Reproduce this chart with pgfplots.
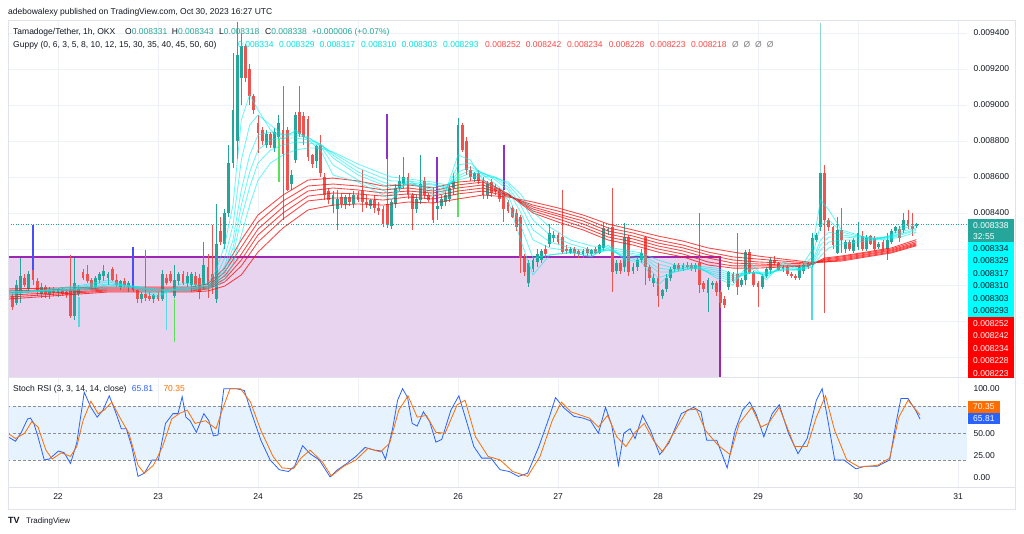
\documentclass[border=0pt]{standalone}
\usepackage{pgfplots}
\pgfplotsset{compat=1.18}
\usepackage{pgfplotstable}
\usepackage{fontspec}
\setmainfont{Liberation Sans}
\definecolor{upc}{HTML}{26A69A}
\definecolor{dnc}{HTML}{EF5350}
\definecolor{tvtext}{HTML}{131722}
\definecolor{gridc}{HTML}{EEF1F7}
\definecolor{framec}{HTML}{E0E3EB}
\definecolor{lav}{RGB}{232,212,238}
\definecolor{purp}{HTML}{9C27B0}
\definecolor{kblue}{HTML}{2962FF}
\definecolor{dorange}{HTML}{FF6D00}
\definecolor{bandc}{RGB}{230,242,253}
\definecolor{cyanv}{RGB}{0,225,225}
\definecolor{redv}{RGB}{255,70,70}
\definecolor{boxcyan}{RGB}{0,255,255}
\definecolor{boxred}{RGB}{255,0,0}
\definecolor{emacyan}{RGB}{0,240,240}
\definecolor{emared}{RGB}{255,20,20}
\definecolor{ovblue}{RGB}{70,80,245}
\definecolor{ovpurp}{RGB}{140,50,200}
\definecolor{ovlime}{RGB}{90,225,90}
\definecolor{ovcyan}{RGB}{80,220,225}
\definecolor{ovteal}{RGB}{140,215,210}
\definecolor{dashc}{RGB}{140,143,152}
\newcommand\tvf{\fontsize{8.5}{10}\selectfont}

\pgfplotstableread{
i o h l c
1 0.007940 0.007960 0.007860 0.007880
2 0.007900 0.008030 0.007890 0.008000
3 0.007960 0.008150 0.007900 0.008050
4 0.008040 0.008060 0.007990 0.008000
5 0.007980 0.008080 0.007960 0.008060
6 0.008090 0.008333 0.008000 0.008030
7 0.008020 0.008040 0.007940 0.007960
8 0.007950 0.008010 0.007930 0.007990
9 0.007990 0.008000 0.007930 0.007950
10 0.007950 0.007990 0.007920 0.007980
11 0.007980 0.007990 0.007940 0.007955
12 0.007955 0.007985 0.007935 0.007975
13 0.007975 0.007990 0.007940 0.007950
14 0.007960 0.007980 0.007930 0.007945
15 0.007975 0.008167 0.007817 0.007830
16 0.007830 0.008150 0.007806 0.008011
17 0.007950 0.008000 0.007940 0.007980
18 0.008070 0.008090 0.008030 0.008040
19 0.008060 0.008110 0.008010 0.008020
20 0.008030 0.008040 0.007980 0.007990
21 0.007990 0.008050 0.007980 0.008040
22 0.008030 0.008070 0.008010 0.008060
23 0.008050 0.008110 0.008020 0.008080
24 0.008040 0.008070 0.008000 0.008060
25 0.008090 0.008100 0.008020 0.008030
26 0.008030 0.008060 0.007990 0.008000
27 0.007990 0.008030 0.007970 0.008020
28 0.008020 0.008040 0.007990 0.008000
29 0.007990 0.008020 0.007960 0.008010
30 0.008000 0.008020 0.007960 0.007970
31 0.007970 0.007980 0.007900 0.007920
32 0.007920 0.007960 0.007900 0.007950
33 0.007950 0.008194 0.007910 0.007930
34 0.007940 0.007960 0.007910 0.007920
35 0.007920 0.007950 0.007900 0.007945
36 0.007945 0.007960 0.007910 0.007925
37 0.007925 0.008083 0.007910 0.008060
38 0.008040 0.008060 0.008000 0.008010
39 0.008060 0.008080 0.008010 0.008020
40 0.007940 0.008111 0.007930 0.008030
41 0.008020 0.008070 0.008000 0.008060
42 0.008060 0.008080 0.008000 0.008010
43 0.008010 0.008070 0.007990 0.008050
44 0.008000 0.008070 0.007960 0.008060
45 0.008050 0.008070 0.007990 0.008000
46 0.008040 0.008060 0.007920 0.007960
47 0.008000 0.008240 0.007980 0.008110
48 0.008100 0.008170 0.007930 0.008000
49 0.008060 0.008333 0.007950 0.007990
50 0.007920 0.008450 0.007900 0.008230
51 0.008300 0.008380 0.008220 0.008240
52 0.008230 0.008420 0.008200 0.008400
53 0.008400 0.008780 0.008380 0.008680
54 0.008680 0.009290 0.008650 0.008970
55 0.008800 0.009460 0.008700 0.009280
56 0.009150 0.009400 0.009000 0.009330
57 0.009330 0.009340 0.009130 0.009150
58 0.009200 0.009230 0.009000 0.009050
59 0.009050 0.009060 0.008950 0.008970
60 0.008900 0.008944 0.008733 0.008845
61 0.008860 0.008880 0.008780 0.008800
62 0.008780 0.008860 0.008760 0.008840
63 0.008840 0.008850 0.008760 0.008780
64 0.008760 0.008870 0.008740 0.008850
65 0.008820 0.008944 0.008810 0.008900
66 0.008860 0.009106 0.008361 0.008730
67 0.008860 0.008880 0.008520 0.008530
68 0.008560 0.008640 0.008530 0.008610
69 0.008694 0.008960 0.008680 0.008944
70 0.008960 0.009106 0.008820 0.008840
71 0.008940 0.008960 0.008780 0.008820
72 0.008920 0.008940 0.008690 0.008710
73 0.008720 0.008730 0.008650 0.008670
74 0.008690 0.008780 0.008650 0.008770
75 0.008780 0.008833 0.008600 0.008622
76 0.008600 0.008620 0.008470 0.008500
77 0.008520 0.008540 0.008450 0.008470
78 0.008440 0.008520 0.008400 0.008500
79 0.008420 0.008528 0.008306 0.008480
80 0.008490 0.008510 0.008430 0.008450
81 0.008450 0.008500 0.008420 0.008490
82 0.008490 0.008510 0.008440 0.008460
83 0.008450 0.008520 0.008430 0.008500
84 0.008500 0.008520 0.008460 0.008470
85 0.008520 0.008639 0.008406 0.008460
86 0.008460 0.008500 0.008430 0.008450
87 0.008440 0.008480 0.008420 0.008470
88 0.008470 0.008500 0.008400 0.008430
89 0.008430 0.008460 0.008390 0.008410
90 0.008420 0.008440 0.008320 0.008340
91 0.008450 0.008700 0.008317 0.008340
92 0.008330 0.008480 0.008310 0.008460
93 0.008450 0.008560 0.008430 0.008540
94 0.008540 0.008610 0.008520 0.008580
95 0.008560 0.008711 0.008540 0.008600
96 0.008600 0.008620 0.008480 0.008500
97 0.008500 0.008511 0.008306 0.008420
98 0.008420 0.008500 0.008400 0.008480
99 0.008470 0.008722 0.008450 0.008560
100 0.008580 0.008600 0.008480 0.008500
101 0.008500 0.008510 0.008460 0.008470
102 0.008490 0.008544 0.008344 0.008360
103 0.008420 0.008461 0.008361 0.008440
104 0.008440 0.008500 0.008420 0.008480
105 0.008460 0.008520 0.008440 0.008500
106 0.008480 0.008560 0.008460 0.008540
107 0.008540 0.008620 0.008500 0.008580
108 0.008622 0.008928 0.008560 0.008889
109 0.008889 0.008900 0.008740 0.008750
110 0.008800 0.008820 0.008610 0.008640
111 0.008640 0.008660 0.008580 0.008600
112 0.008590 0.008630 0.008570 0.008620
113 0.008620 0.008640 0.008560 0.008580
114 0.008580 0.008600 0.008480 0.008500
115 0.008500 0.008580 0.008480 0.008560
116 0.008570 0.008590 0.008490 0.008510
117 0.008540 0.008560 0.008500 0.008520
118 0.008530 0.008540 0.008460 0.008480
119 0.008510 0.008530 0.008350 0.008420
120 0.008460 0.008470 0.008400 0.008410
121 0.008430 0.008440 0.008370 0.008380
122 0.008400 0.008420 0.008300 0.008320
123 0.008378 0.008389 0.008067 0.008150
124 0.008150 0.008170 0.008050 0.008070
125 0.008010 0.008140 0.007990 0.008120
126 0.008090 0.008150 0.008070 0.008140
127 0.008130 0.008200 0.008100 0.008170
128 0.008140 0.008200 0.008120 0.008190
129 0.008200 0.008220 0.008150 0.008170
130 0.008230 0.008340 0.008211 0.008290
131 0.008260 0.008300 0.008240 0.008280
132 0.008280 0.008290 0.008230 0.008240
133 0.008267 0.008528 0.008170 0.008183
134 0.008200 0.008220 0.008170 0.008190
135 0.008180 0.008210 0.008170 0.008200
136 0.008200 0.008210 0.008160 0.008180
137 0.008190 0.008200 0.008150 0.008170
138 0.008170 0.008200 0.008150 0.008190
139 0.008200 0.008210 0.008160 0.008180
140 0.008170 0.008200 0.008160 0.008195
141 0.008200 0.008210 0.008170 0.008180
142 0.008180 0.008230 0.008170 0.008220
143 0.008206 0.008344 0.008190 0.008317
144 0.008300 0.008320 0.008280 0.008310
145 0.008320 0.008540 0.007960 0.008070
146 0.008080 0.008140 0.008060 0.008120
147 0.008120 0.008140 0.008060 0.008080
148 0.008100 0.008344 0.008070 0.008267
149 0.008267 0.008280 0.008050 0.008070
150 0.008080 0.008120 0.008060 0.008100
151 0.008100 0.008150 0.008080 0.008140
152 0.008140 0.008200 0.008120 0.008180
153 0.008267 0.008270 0.008000 0.008100
154 0.008100 0.008110 0.008020 0.008040
155 0.008010 0.008060 0.007990 0.008040
156 0.008040 0.008120 0.007880 0.007940
157 0.007940 0.007980 0.007920 0.007970
158 0.007980 0.008060 0.007960 0.008040
159 0.008040 0.008100 0.008020 0.008090
160 0.008090 0.008120 0.008070 0.008110
161 0.008110 0.008120 0.008080 0.008090
162 0.008090 0.008120 0.008080 0.008110
163 0.008110 0.008130 0.008090 0.008100
164 0.008110 0.008120 0.008080 0.008090
165 0.008090 0.008120 0.008070 0.008110
166 0.008120 0.008400 0.007955 0.008000
167 0.008010 0.008020 0.007960 0.007980
168 0.007956 0.008040 0.007850 0.008028
169 0.008000 0.008020 0.007980 0.008010
170 0.008010 0.008020 0.007940 0.007960
171 0.007960 0.007970 0.007870 0.007900
172 0.007920 0.007940 0.007870 0.007890
173 0.007989 0.008080 0.007970 0.008072
174 0.008060 0.008070 0.008010 0.008020
175 0.008060 0.008289 0.007944 0.007990
176 0.008000 0.008040 0.007990 0.008030
177 0.008028 0.008194 0.008000 0.008183
178 0.008183 0.008200 0.008060 0.008067
179 0.008070 0.008080 0.007990 0.008000
180 0.008010 0.008020 0.007878 0.007990
181 0.007990 0.008060 0.007980 0.008050
182 0.008050 0.008100 0.008040 0.008090
183 0.008083 0.008150 0.008060 0.008139
184 0.008140 0.008160 0.008110 0.008120
185 0.008122 0.008130 0.008080 0.008083
186 0.008090 0.008110 0.008070 0.008100
187 0.008100 0.008110 0.008050 0.008060
188 0.008060 0.008070 0.008040 0.008050
189 0.008050 0.008060 0.008030 0.008040
190 0.008040 0.008110 0.008030 0.008100
191 0.008080 0.008120 0.008060 0.008110
192 0.008120 0.008130 0.008090 0.008100
193 0.008111 0.008290 0.008100 0.008261
194 0.008250 0.008290 0.008240 0.008280
195 0.008322 0.008622 0.008300 0.008622
196 0.008622 0.008667 0.007844 0.008361
197 0.008360 0.008370 0.008300 0.008320
198 0.008320 0.008330 0.008200 0.008220
199 0.008180 0.008380 0.008170 0.008306
200 0.008306 0.008428 0.008178 0.008250
201 0.008200 0.008250 0.008180 0.008240
202 0.008240 0.008250 0.008190 0.008200
203 0.008190 0.008260 0.008180 0.008250
204 0.008211 0.008350 0.008194 0.008289
205 0.008270 0.008300 0.008190 0.008200
206 0.008200 0.008280 0.008190 0.008260
207 0.008270 0.008280 0.008220 0.008230
208 0.008260 0.008270 0.008190 0.008200
209 0.008210 0.008240 0.008200 0.008230
210 0.008240 0.008250 0.008190 0.008200
211 0.008200 0.008289 0.008139 0.008250
212 0.008240 0.008310 0.008230 0.008300
213 0.008300 0.008330 0.008290 0.008320
214 0.008310 0.008330 0.008240 0.008260
215 0.008306 0.008400 0.008290 0.008361
216 0.008360 0.008417 0.008310 0.008330
217 0.008330 0.008400 0.008270 0.008310
218 0.008331 0.008343 0.008318 0.008338
}\candles

\pgfplotstableread{
i lo hi
6 0.008083 0.008333
30 0.007980 0.008211
}\ovblue
\pgfplotstableread{
i lo hi
91 0.008700 0.008950
103 0.008461 0.008711
119 0.008530 0.008780
}\ovpurp
\pgfplotstableread{
i lo hi
40 0.007683 0.007920
65 0.008570 0.008810
108 0.008378 0.008622
}\ovlime
\pgfplotstableread{
i lo hi
17 0.007767 0.007933
38 0.007750 0.007956
193 0.007806 0.008100
}\ovcyan
\pgfplotstableread{
i lo hi
195 0.008622 0.009455
}\ovteal

\pgfplotstableread{
i c1 c2 c3 c4 c5 c6
0 0.007944 0.007950 0.007956 0.007961 0.007961 0.007967
12 0.007983 0.007978 0.007972 0.007972 0.007967 0.007967
18 0.008000 0.007994 0.007989 0.007983 0.007978 0.007972
24 0.008028 0.008017 0.008006 0.008000 0.007994 0.007983
30 0.007983 0.007989 0.007994 0.007994 0.007994 0.007989
36 0.007933 0.007944 0.007956 0.007967 0.007972 0.007978
42 0.008011 0.007994 0.007983 0.007978 0.007972 0.007967
46 0.008000 0.007994 0.007989 0.007989 0.007983 0.007978
48 0.008011 0.008000 0.007994 0.007989 0.007983 0.007978
50 0.008083 0.008050 0.008028 0.008017 0.008006 0.007994
52 0.008222 0.008150 0.008106 0.008083 0.008061 0.008033
54 0.008444 0.008333 0.008250 0.008206 0.008167 0.008117
56 0.008917 0.008694 0.008528 0.008444 0.008372 0.008278
58 0.009056 0.008889 0.008722 0.008628 0.008544 0.008444
60 0.008972 0.008944 0.008833 0.008750 0.008678 0.008583
63 0.008861 0.008889 0.008850 0.008806 0.008750 0.008678
66 0.008806 0.008833 0.008833 0.008817 0.008778 0.008722
69 0.008861 0.008850 0.008833 0.008817 0.008794 0.008750
72 0.008806 0.008822 0.008817 0.008806 0.008789 0.008761
75 0.008750 0.008772 0.008783 0.008783 0.008778 0.008761
78 0.008611 0.008667 0.008706 0.008722 0.008733 0.008739
84 0.008572 0.008583 0.008611 0.008628 0.008650 0.008672
90 0.008500 0.008528 0.008556 0.008572 0.008594 0.008617
92 0.008472 0.008500 0.008533 0.008556 0.008578 0.008600
96 0.008583 0.008567 0.008561 0.008567 0.008578 0.008589
102 0.008500 0.008528 0.008544 0.008556 0.008561 0.008572
105 0.008517 0.008517 0.008528 0.008539 0.008544 0.008556
108 0.008722 0.008667 0.008628 0.008606 0.008594 0.008583
111 0.008694 0.008678 0.008656 0.008639 0.008622 0.008600
114 0.008583 0.008611 0.008622 0.008622 0.008617 0.008606
117 0.008539 0.008561 0.008583 0.008594 0.008600 0.008594
120 0.008472 0.008500 0.008528 0.008544 0.008561 0.008572
123 0.008250 0.008333 0.008406 0.008444 0.008478 0.008506
126 0.008056 0.008150 0.008250 0.008306 0.008361 0.008406
130 0.008167 0.008167 0.008206 0.008239 0.008278 0.008322
135 0.008183 0.008178 0.008189 0.008206 0.008228 0.008250
140 0.008156 0.008161 0.008172 0.008183 0.008194 0.008217
144 0.008222 0.008206 0.008194 0.008194 0.008200 0.008211
148 0.008139 0.008150 0.008161 0.008172 0.008183 0.008194
152 0.008128 0.008139 0.008150 0.008161 0.008167 0.008178
156 0.008000 0.008039 0.008072 0.008094 0.008117 0.008139
160 0.008083 0.008072 0.008072 0.008083 0.008094 0.008111
165 0.008111 0.008100 0.008094 0.008094 0.008100 0.008106
170 0.008039 0.008050 0.008061 0.008072 0.008083 0.008094
174 0.008000 0.008017 0.008028 0.008039 0.008050 0.008061
178 0.008128 0.008094 0.008072 0.008067 0.008067 0.008067
182 0.008028 0.008044 0.008056 0.008061 0.008067 0.008072
186 0.008128 0.008111 0.008094 0.008089 0.008083 0.008083
190 0.008090 0.008088 0.008086 0.008085 0.008084 0.008083
193 0.008194 0.008156 0.008128 0.008117 0.008106 0.008100
195 0.008472 0.008333 0.008250 0.008222 0.008194 0.008161
197 0.008417 0.008361 0.008294 0.008267 0.008239 0.008206
200 0.008306 0.008294 0.008278 0.008267 0.008250 0.008228
204 0.008278 0.008272 0.008267 0.008261 0.008250 0.008239
208 0.008250 0.008256 0.008261 0.008261 0.008256 0.008250
212 0.008278 0.008272 0.008267 0.008267 0.008261 0.008256
215 0.008333 0.008317 0.008300 0.008289 0.008283 0.008272
218 0.008334 0.008329 0.008317 0.008310 0.008303 0.008293
}\emacyan

\pgfplotstableread{
i r1 r2 r3 r4 r5 r6
0 0.007978 0.007967 0.007956 0.007944 0.007933 0.007922
24 0.007989 0.007983 0.007978 0.007972 0.007967 0.007961
44 0.007989 0.007983 0.007978 0.007972 0.007967 0.007961
48 0.008006 0.007994 0.007989 0.007983 0.007978 0.007967
52 0.008094 0.008072 0.008050 0.008033 0.008017 0.007994
56 0.008250 0.008211 0.008172 0.008139 0.008106 0.008056
60 0.008389 0.008350 0.008311 0.008278 0.008239 0.008183
66 0.008500 0.008467 0.008433 0.008400 0.008367 0.008317
72 0.008583 0.008550 0.008522 0.008494 0.008467 0.008417
78 0.008594 0.008561 0.008539 0.008511 0.008483 0.008444
84 0.008578 0.008550 0.008528 0.008506 0.008483 0.008450
90 0.008550 0.008528 0.008511 0.008494 0.008472 0.008444
96 0.008556 0.008539 0.008522 0.008506 0.008489 0.008461
102 0.008539 0.008522 0.008511 0.008494 0.008478 0.008456
108 0.008572 0.008556 0.008539 0.008522 0.008506 0.008478
114 0.008583 0.008572 0.008556 0.008539 0.008522 0.008500
120 0.008506 0.008506 0.008500 0.008500 0.008494 0.008489
126 0.008400 0.008411 0.008422 0.008433 0.008444 0.008461
132 0.008350 0.008367 0.008383 0.008394 0.008411 0.008428
138 0.008306 0.008322 0.008339 0.008356 0.008372 0.008389
144 0.008250 0.008267 0.008283 0.008300 0.008317 0.008339
150 0.008222 0.008239 0.008256 0.008272 0.008289 0.008306
156 0.008183 0.008200 0.008217 0.008233 0.008250 0.008272
162 0.008156 0.008172 0.008189 0.008206 0.008222 0.008244
168 0.008111 0.008128 0.008150 0.008167 0.008183 0.008206
174 0.008094 0.008106 0.008122 0.008139 0.008156 0.008183
180 0.008094 0.008106 0.008117 0.008128 0.008144 0.008161
186 0.008100 0.008106 0.008111 0.008122 0.008133 0.008144
192 0.008106 0.008106 0.008111 0.008117 0.008122 0.008128
196 0.008150 0.008144 0.008139 0.008133 0.008128 0.008128
200 0.008161 0.008156 0.008150 0.008144 0.008139 0.008133
206 0.008183 0.008178 0.008172 0.008167 0.008161 0.008156
212 0.008206 0.008200 0.008194 0.008189 0.008183 0.008178
218 0.008252 0.008242 0.008234 0.008228 0.008223 0.008218
}\emared

\pgfplotstableread{
i k
0.0 46
1.8 41
3.2 51
4.7 66
5.4 67
6.2 61
7.2 46
8.7 20
9.9 21
12.1 30
13.5 28
15.0 16
16.5 39
18.3 96
19.9 79
21.4 68
22.8 76
24.3 92
25.8 74
27.2 55
28.4 55
29.7 35
31.2 1.5
32.7 5
34.6 20
36.1 20
37.8 61
39.6 72
40.8 72
41.8 91
42.7 68
43.7 64
45.2 51
47.0 72
48.2 64
49.3 47
50.4 48
51.8 100
54.8 100
56.7 98
58.5 72
60.7 42
62.9 20
65.1 9
67.3 7
68.8 13
70.7 36
72.5 27
74.7 20
77.3 1
79.1 9
81.3 16
83.5 24
85.7 34
88.0 31
89.7 30
90.6 21
92.3 55
93.5 87
94.7 100
95.9 90
97.0 61
98.2 58
99.7 74
101.2 63
102.7 40
104.1 43
106.3 76
108.2 92
110.0 64
111.8 35
113.7 22
115.9 22
118.1 9
120.3 7
122.5 1.5
124.7 5
127.4 35
129.9 68
131.4 90
133.3 79
135.8 69
138.0 67
139.8 64
141.7 50
143.4 79
144.9 59
146.5 14
147.8 50
149.3 55
150.5 44
152.3 70
154.2 53
156.4 26
158.6 39
161.6 72
164.5 79
166.3 74
167.7 42
170.1 42
172.6 11
174.5 53
176.3 76
178.0 85
179.5 72
181.4 46
183.4 72
185.1 82
187.3 50
189.6 27
191.8 44
194.0 87
195.4 100
196.9 61
198.4 20
200.6 20
203.5 10
205.7 13
208.7 13
211.6 20
213.1 61
214.3 89
216.0 89
217.8 76
218.9 65.81
}\stochk

\pgfplotstableread{
i d
0.0 50
1.8 44
4.0 50
5.7 63
7.2 57
9.1 31
10.6 21
12.8 28
15.0 24
16.5 35
18.0 64
19.9 86
21.6 72
23.1 76
24.9 85
26.8 68
29.0 50
31.2 14
32.7 5
34.9 14
37.1 35
39.3 66
41.1 72
43.0 76
44.9 61
47.4 64
49.9 55
51.4 76
53.3 100
55.8 100
58.2 85
60.7 53
63.6 24
65.8 11
68.5 10
70.3 22
72.5 31
75.4 18
77.6 2
80.6 13
83.5 20
86.4 33
89.4 29
91.6 39
93.8 76
96.0 92
98.2 68
100.4 70
102.7 51
104.9 50
107.8 82
109.7 87
112.2 46
115.2 24
118.1 20
121.1 7
124.7 1.5
127.7 24
130.6 64
132.8 85
135.1 74
139.5 67
141.7 57
143.9 70
146.1 46
148.3 35
150.5 51
152.7 61
154.9 42
157.1 29
160.1 53
163.0 76
165.2 77
167.4 53
170.3 37
173.3 26
175.5 61
178.5 79
180.7 57
182.5 61
185.1 79
188.8 35
191.8 35
194.0 68
196.2 92
198.4 53
201.3 20
204.3 12
208.7 14
211.6 22
213.8 68
216.0 87
218.9 70.35
}\stochd

\pgfplotsset{
  nomk/.style={only marks, mark=*, mark size=0pt, mark options={draw=none, fill=none}, forget plot,
    error bars/y dir=both, error bars/y explicit, error bars/error mark=none},
  wick/.style={nomk, error bars/error bar style={draw=#1, line width=0.9pt}},
  body/.style={nomk, error bars/error bar style={draw=#1, line width=2.9pt, line cap=butt}},
  ov/.style={nomk, error bars/error bar style={draw=#1, line width=1.4pt}},
}

\begin{document}
\begin{tikzpicture}[x=1pt,y=1pt]
\fill[white] (0,0) rectangle (1024,-534);

% ---------------- price pane ----------------
\begin{axis}[
  at={(8pt,-20pt)}, anchor=north west,
  scale only axis, width=959pt, height=357pt,
  xmin=0, xmax=230.16, ymin=0.0074889, ymax=0.0094722,
  axis line style={draw=none}, tick style={draw=none}, major tick length=0pt,
  xtick={12,36,60,84,108,132,156,180,204,228}, xticklabels={},
  ytick={0.0084,0.0086,0.0088,0.0090,0.0092,0.0094},
  extra y ticks={0.0076,0.0078,0.0080,0.0082},
  extra y tick labels={},
  extra y tick style={grid=major, major grid style={draw=gridc, line width=0.7pt}},
  scaled y ticks=false,
  yticklabel pos=right,
  yticklabel style={font=\tvf, text=tvtext, xshift=3pt,
    /pgf/number format/fixed, /pgf/number format/fixed zerofill,
    /pgf/number format/precision=6, /pgf/number format/assume math mode=true},
  grid=major, major grid style={draw=gridc, line width=0.7pt},
]
% purple rectangle drawing
\addplot[draw=none, fill=lav, forget plot] coordinates {(-2,0.008156) (170.9,0.008156) (170.9,0.0074) (-2,0.0074)} -- cycle;
\addplot[purp, line width=1.5pt, forget plot] coordinates {(-2,0.008156) (170.9,0.008156) (170.9,0.0074)};
% current price line
\addplot[upc, line width=0.6pt, dash pattern=on 1pt off 1.5pt, forget plot] coordinates {(0,0.008338) (230.16,0.008338)};

% candles: wicks and bodies
\addplot[wick=upc] table[x=i, y expr={\thisrow{c}<\thisrow{o} ? nan : (\thisrow{h}+\thisrow{l})/2}, y error expr={(\thisrow{h}-\thisrow{l})/2}] {\candles};
\addplot[wick=dnc] table[x=i, y expr={\thisrow{c}<\thisrow{o} ? (\thisrow{h}+\thisrow{l})/2 : nan}, y error expr={(\thisrow{h}-\thisrow{l})/2}] {\candles};
\addplot[body=upc] table[x=i, y expr={\thisrow{c}<\thisrow{o} ? nan : (\thisrow{o}+\thisrow{c})/2}, y error expr={abs(\thisrow{c}-\thisrow{o})/2}] {\candles};
\addplot[body=dnc] table[x=i, y expr={\thisrow{c}<\thisrow{o} ? (\thisrow{o}+\thisrow{c})/2 : nan}, y error expr={abs(\thisrow{c}-\thisrow{o})/2}] {\candles};

% coloured wicks
\addplot[ov=ovblue] table[x=i, y expr={(\thisrow{hi}+\thisrow{lo})/2}, y error expr={(\thisrow{hi}-\thisrow{lo})/2}] {\ovblue};
\addplot[ov=ovpurp] table[x=i, y expr={(\thisrow{hi}+\thisrow{lo})/2}, y error expr={(\thisrow{hi}-\thisrow{lo})/2}] {\ovpurp};
\addplot[ov=ovlime] table[x=i, y expr={(\thisrow{hi}+\thisrow{lo})/2}, y error expr={(\thisrow{hi}-\thisrow{lo})/2}] {\ovlime};
\addplot[ov=ovcyan] table[x=i, y expr={(\thisrow{hi}+\thisrow{lo})/2}, y error expr={(\thisrow{hi}-\thisrow{lo})/2}] {\ovcyan};
\addplot[ov=ovteal] table[x=i, y expr={(\thisrow{hi}+\thisrow{lo})/2}, y error expr={(\thisrow{hi}-\thisrow{lo})/2}] {\ovteal};

% Guppy EMAs
\foreach \r in {r1,r2,r3,r4,r5,r6}{
  \addplot[emared, opacity=0.8, line width=0.85pt, mark=none, forget plot] table[x=i, y=\r] {\emared};
}
\foreach \c in {c1,c2,c3,c4,c5,c6}{
  \addplot[emacyan, opacity=0.6, line width=0.8pt, mark=none, forget plot] table[x=i, y=\c] {\emacyan};
}
\end{axis}

% ---------------- Stoch RSI pane ----------------
\begin{axis}[
  at={(8pt,-378pt)}, anchor=north west,
  scale only axis, width=959pt, height=109pt,
  xmin=0, xmax=230.16, ymin=-10.4, ymax=112,
  axis line style={draw=none}, tick style={draw=none}, major tick length=0pt,
  xtick={12,36,60,84,108,132,156,180,204,228},
  xticklabels={22,23,24,25,26,27,28,29,30,31},
  xticklabel style={font=\tvf, text=tvtext, yshift=-3pt},
  ytick={0,25,50,100}, yticklabels={0.00,25.00,50.00,100.00},
  yticklabel pos=right,
  yticklabel style={font=\tvf, text=tvtext, xshift=3pt},
  xmajorgrids, major grid style={draw=gridc, line width=0.7pt},
]
\addplot[draw=none, fill=bandc, forget plot] coordinates {(0,20) (230.16,20) (230.16,80) (0,80)} -- cycle;
\addplot[dashc, line width=0.6pt, dash pattern=on 2.5pt off 2.5pt, forget plot] coordinates {(0,80) (230.16,80)};
\addplot[dashc, line width=0.6pt, dash pattern=on 2.5pt off 2.5pt, forget plot] coordinates {(0,50) (230.16,50)};
\addplot[dashc, line width=0.6pt, dash pattern=on 2.5pt off 2.5pt, forget plot] coordinates {(0,20) (230.16,20)};
\addplot[kblue, line width=0.8pt, mark=none] table[x=i, y=k] {\stochk};
\addplot[dorange, line width=0.8pt, mark=none] table[x=i, y=d] {\stochd};
\end{axis}

% frame and separators
\draw[framec, line width=0.6pt] (8,-20) rectangle (1015,-509);
\draw[framec, line width=0.6pt] (8,-377.5) -- (1015,-377.5);
\draw[framec, line width=0.6pt] (8,-487) -- (1015,-487);

% right scale label boxes
\begin{scope}
\clip (966,-20) rectangle (1016,-377);
\fill[upc] (968,-219) rectangle (1014,-242);
\fill[boxcyan] (968,-242) rectangle (1014,-317);
\fill[boxred] (968,-317) rectangle (1014,-380);
\node[anchor=west, inner sep=0, font=\tvf, text=white] at (973,-225.5) {0.008338};
\node[anchor=west, inner sep=0, font=\tvf, text=white] at (973,-236.5) {32:55};
\foreach \v/\yy in {0.008334/248.3, 0.008329/260.8, 0.008317/273.3, 0.008310/285.8, 0.008303/298.3, 0.008293/310.8}{
  \node[anchor=west, inner sep=0, font=\tvf, text=tvtext] at (973,-\yy) {\v};
}
\foreach \v/\yy in {0.008252/323.3, 0.008242/335.8, 0.008234/348.3, 0.008228/360.8, 0.008223/373.3}{
  \node[anchor=west, inner sep=0, font=\tvf, text=white] at (973,-\yy) {\v};
}
\end{scope}
\fill[dorange] (968,-401) rectangle (1000,-412.5);
\fill[kblue] (968,-412.5) rectangle (1000,-424);
\node[anchor=west, inner sep=0, font=\tvf, text=white] at (973,-406.8) {70.35};
\node[anchor=west, inner sep=0, font=\tvf, text=white] at (973,-418.3) {65.81};

% header texts
\node[anchor=base west, inner sep=0, font=\tvf, text=tvtext] at (8,-14.5) {adebowalexy published on TradingView.com, Oct 30, 2023 16:27 UTC};
\node[anchor=base west, inner sep=0, font=\tvf, text=tvtext] at (13,-34.7) {Tamadoge/Tether, 1h, OKX};
\node[anchor=base west, inner sep=0, font=\tvf, text=tvtext] at (125,-34.7) {O\textcolor{upc}{0.008331}};
\node[anchor=base west, inner sep=0, font=\tvf, text=tvtext] at (171.7,-34.7) {H\textcolor{upc}{0.008343}};
\node[anchor=base west, inner sep=0, font=\tvf, text=tvtext] at (219,-34.7) {L\textcolor{upc}{0.008318}};
\node[anchor=base west, inner sep=0, font=\tvf, text=tvtext] at (265,-34.7) {C\textcolor{upc}{0.008338}};
\node[anchor=base west, inner sep=0, font=\tvf, text=upc] at (311.7,-34.7) {+0.000006 (+0.07\%)};
\node[anchor=base west, inner sep=0, font=\tvf, text=tvtext] at (13,-47.5) {Guppy (0, 6, 3, 5, 8, 10, 12, 15, 30, 35, 40, 45, 50, 60)};
\foreach \v/\xx in {0.008334/238, 0.008329/279, 0.008317/319.5, 0.008310/361, 0.008303/401.5, 0.008293/443}{
  \node[anchor=base west, inner sep=0, font=\tvf, text=cyanv] at (\xx,-47.5) {\v};
}
\foreach \v/\xx in {0.008252/485, 0.008242/525.7, 0.008234/567, 0.008228/608.7, 0.008223/650, 0.008218/691}{
  \node[anchor=base west, inner sep=0, font=\tvf, text=redv] at (\xx,-47.5) {\v};
}
\foreach \xx in {732,743.5,755,766.7}{
  \node[anchor=base west, inner sep=0, font=\tvf, text=gray] at (\xx,-47.5) {Ø};
}
\node[anchor=base west, inner sep=0, font=\tvf, text=tvtext] at (13,-391) {Stoch RSI (3, 3, 14, 14, close)};
\node[anchor=base west, inner sep=0, font=\tvf, text=kblue] at (131.7,-391) {65.81};
\node[anchor=base west, inner sep=0, font=\tvf, text=dorange] at (163.3,-391) {70.35};

% logo
\node[anchor=base west, inner sep=0, font=\fontsize{9}{10}\selectfont\bfseries, text=tvtext] at (8,-523.5) {TV};
\node[anchor=base west, inner sep=0, font=\fontsize{8}{10}\selectfont, text=tvtext] at (26,-523.5) {TradingView};
\end{tikzpicture}
\end{document}
